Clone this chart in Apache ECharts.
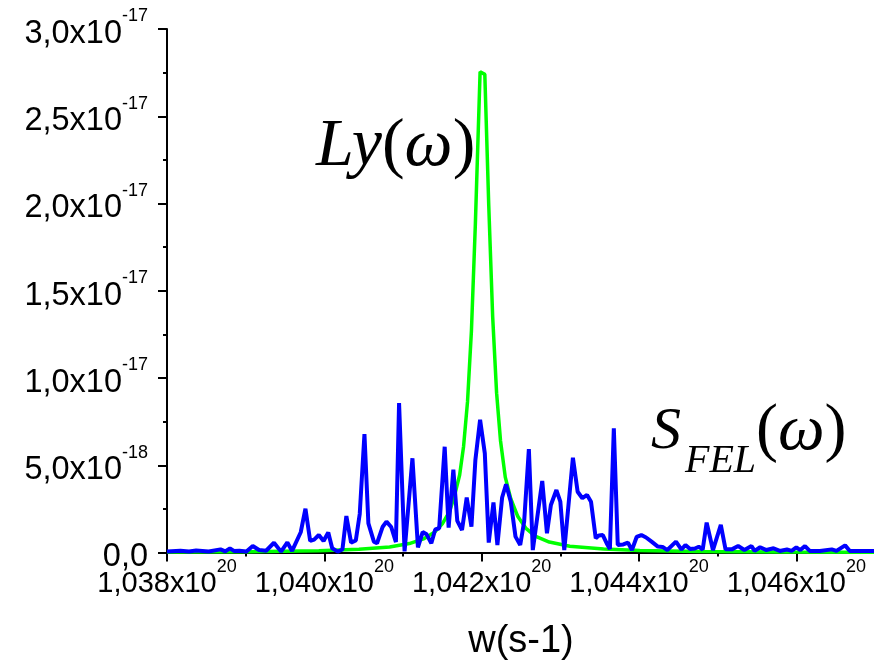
<!DOCTYPE html>
<html>
<head>
<meta charset="utf-8">
<script src="https://cdn.jsdelivr.net/npm/echarts@6/dist/echarts.min.js"></script>
<style>
  html, body { margin: 0; padding: 0; background: #fff; }
  #chart { width: 874px; height: 667px; }
</style>
</head>
<body>
<div id="chart"></div>
<script>
// Frequency axis values are in units of 10^20 s^-1, spectra in units of 10^-18.

// Tick labels
const xTickValues = [1.038, 1.040, 1.042, 1.044, 1.046];
const xTickMantissa = ['1,038', '1,040', '1,042', '1,044', '1,046'];
const xTickExponent = ['20', '20', '20', '20', '20'];
const yTickValues = [0, 5, 10, 15, 20, 25, 30];
const yTickMantissa = ['0,0', '5,0', '1,0', '1,5', '2,0', '2,5', '3,0'];
const yTickExponent = ['', '-18', '-17', '-17', '-17', '-17', '-17'];

// Lorentzian line Ly(w)
const freqLy = [1.03800, 1.03904, 1.03993, 1.04044, 1.04083, 1.04108, 1.04127, 1.04140,
  1.04150, 1.04159, 1.04165, 1.04172, 1.04177, 1.04182, 1.04187, 1.04192, 1.04198,
  1.04204, 1.04209, 1.04214, 1.04219, 1.04224, 1.04230, 1.04237, 1.04246, 1.04256,
  1.04268, 1.04286, 1.04312, 1.04355, 1.04401, 1.04477, 1.04579, 1.04700];
const specLy = [0.03, 0.05, 0.10, 0.18, 0.32, 0.51, 0.80, 1.16,
  1.64, 2.34, 3.16, 4.44, 6.08, 8.63, 12.72, 18.84, 27.55,
  27.40, 19.90, 13.50, 9.13, 6.39, 4.32, 3.08, 2.06, 1.40,
  0.94, 0.60, 0.36, 0.20, 0.11, 0.06, 0.03, 0.02];

// FEL spectrum S_FEL(w)
const freqFEL = [1.03800, 1.03817, 1.03828, 1.03837, 1.03853, 1.03868, 1.03874, 1.03880,
  1.03885, 1.03892, 1.03901, 1.03909, 1.03917, 1.03926, 1.03936, 1.03945, 1.03953,
  1.03959, 1.03970, 1.03976, 1.03982, 1.03987, 1.03993, 1.03999, 1.04005, 1.04010,
  1.04017, 1.04023, 1.04028, 1.04034, 1.04040, 1.04045, 1.04051, 1.04056, 1.04063,
  1.04067, 1.04074, 1.04079, 1.04085, 1.04091, 1.04095, 1.04102, 1.04112, 1.04119,
  1.04125, 1.04130, 1.04136, 1.04141, 1.04146, 1.04153, 1.04158, 1.04164, 1.04169,
  1.04175, 1.04181, 1.04187, 1.04192, 1.04198, 1.04204, 1.04209, 1.04215, 1.04220,
  1.04226, 1.04231, 1.04237, 1.04243, 1.04249, 1.04254, 1.04260, 1.04265, 1.04277,
  1.04283, 1.04288, 1.04295, 1.04300, 1.04305, 1.04316, 1.04322, 1.04328, 1.04334,
  1.04339, 1.04345, 1.04349, 1.04354, 1.04359, 1.04363, 1.04368, 1.04373, 1.04380,
  1.04386, 1.04391, 1.04397, 1.04403, 1.04409, 1.04416, 1.04424, 1.04430, 1.04436,
  1.04447, 1.04454, 1.04459, 1.04465, 1.04471, 1.04476, 1.04481, 1.04486, 1.04494,
  1.04504, 1.04510, 1.04518, 1.04526, 1.04534, 1.04543, 1.04547, 1.04554, 1.04562,
  1.04571, 1.04579, 1.04588, 1.04594, 1.04600, 1.04605, 1.04611, 1.04617, 1.04630,
  1.04645, 1.04651, 1.04662, 1.04668, 1.04700];
const specFEL = [0.06, 0.10, 0.06, 0.11, 0.06, 0.18, 0.06, 0.24,
  0.09, 0.10, 0.06, 0.37, 0.14, 0.10, 0.56, 0.05, 0.58,
  0.09, 1.16, 2.51, 0.66, 0.74, 1.00, 0.66, 1.15, 0.24,
  0.05, 0.17, 2.09, 0.57, 0.69, 2.21, 6.79, 1.67, 0.62,
  0.53, 1.46, 1.77, 1.46, 0.60, 8.57, 0.06, 5.40, 0.29,
  1.17, 1.04, 0.53, 1.32, 1.39, 6.06, 1.43, 4.75, 1.81,
  1.29, 3.15, 1.48, 5.30, 7.61, 5.68, 0.57, 2.87, 0.43,
  3.15, 3.91, 2.91, 0.91, 0.43, 1.77, 5.93, 0.14, 4.10,
  1.10, 2.72, 3.58, 2.91, 0.14, 5.43, 3.48, 3.11, 3.30,
  2.91, 0.81, 0.97, 1.00, 0.52, 0.20, 7.12, 0.43, 0.46,
  0.57, 0.14, 0.89, 1.00, 0.86, 0.62, 0.34, 0.32, 0.14,
  0.62, 0.17, 0.43, 0.20, 0.23, 0.33, 0.17, 1.71, 0.14,
  1.58, 0.18, 0.18, 0.37, 0.14, 0.37, 0.09, 0.30, 0.14,
  0.24, 0.09, 0.17, 0.09, 0.30, 0.14, 0.37, 0.09, 0.09,
  0.18, 0.09, 0.41, 0.09, 0.09];

const zip = (xs, ys) => xs.map((x, i) => [x, ys[i]]);

function tickIndex(values, v) {
  for (let i = 0; i < values.length; i++) {
    if (Math.abs(values[i] - v) < 1e-7) return i;
  }
  return -1;
}

const chart = echarts.init(document.getElementById('chart'), null, { renderer: 'canvas' });

const sans = 'Liberation Sans, Arial, sans-serif';
const serif = 'Liberation Serif, "Times New Roman", serif';

// Mantissa fills a tall line and sits at its bottom; the exponent hugs the top.
function tickRich(mainSize, lineHeight) {
  return {
    m: { fontFamily: sans, fontSize: mainSize, color: '#000', lineHeight: lineHeight, verticalAlign: 'bottom' },
    s: { fontFamily: sans, fontSize: 18, color: '#000', lineHeight: 18, verticalAlign: 'top' }
  };
}

chart.setOption({
  animation: false,
  backgroundColor: '#ffffff',
  grid: { left: 167, top: 29, width: 708, bottom: 114.5, containLabel: false, outerBoundsMode: 'none' },
  xAxis: {
    type: 'value',
    min: 1.038,
    max: 1.047,
    interval: 0.002,
    splitLine: { show: false },
    axisLine: { show: true, onZero: false, lineStyle: { color: '#000', width: 2 } },
    axisTick: { show: true, inside: false, length: 9, lineStyle: { color: '#000', width: 2 } },
    minorTick: { show: true, splitNumber: 2, length: 4, lineStyle: { color: '#000', width: 2 } },
    axisLabel: {
      margin: 6,
      showMaxLabel: false,
      hideOverlap: false,
      formatter: function (v) {
        const i = tickIndex(xTickValues, v);
        if (i < 0) return '';
        return '{m|' + xTickMantissa[i] + 'x10}{s|' + xTickExponent[i] + '}';
      },
      rich: tickRich(29, 40)
    },
    name: 'w(s-1)',
    nameLocation: 'middle',
    nameGap: 70,
    nameTextStyle: { fontFamily: sans, fontSize: 38, color: '#000' }
  },
  yAxis: {
    type: 'value',
    min: 0,
    max: 30,
    interval: 5,
    splitLine: { show: false },
    axisLine: { show: true, lineStyle: { color: '#000', width: 2 } },
    axisTick: { show: true, inside: false, length: 9, lineStyle: { color: '#000', width: 2 } },
    minorTick: { show: true, splitNumber: 2, length: 4, lineStyle: { color: '#000', width: 2 } },
    axisLabel: {
      margin: 19,
      hideOverlap: false,
      formatter: function (v) {
        const i = tickIndex(yTickValues, v);
        if (i < 0) return '';
        if (!yTickExponent[i]) return '{m|' + yTickMantissa[i] + '}';
        return '{m|' + yTickMantissa[i] + 'x10}{s|' + yTickExponent[i] + '}';
      },
      rich: tickRich(32.5, 43)
    }
  },
  series: [
    {
      name: 'Ly',
      type: 'line',
      data: zip(freqLy, specLy),
      showSymbol: false,
      smooth: false,
      lineStyle: { color: '#00ff00', width: 3.5 },
      z: 2
    },
    {
      name: 'SFEL',
      type: 'line',
      data: zip(freqFEL, specFEL),
      showSymbol: false,
      smooth: false,
      lineStyle: { color: '#0000ff', width: 4 },
      z: 3
    }
  ],
  graphic: [
    {
      type: 'text',
      left: 316,
      top: 113,
      style: {
        text: '{i|Ly}{n|(}{i|ω}{n|)}',
        rich: {
          i: { fontFamily: serif, fontStyle: 'italic', fontSize: 68, fill: '#000' },
          n: { fontFamily: serif, fontSize: 68, fill: '#000' }
        }
      }
    },
    {
      type: 'text',
      left: 651,
      top: 402,
      style: { text: 'S', font: 'italic 60px ' + serif, fill: '#000' }
    },
    {
      type: 'text',
      left: 685,
      top: 441,
      style: { text: 'FEL', font: 'italic 40px ' + serif, fill: '#000' }
    },
    {
      type: 'text',
      left: 756,
      top: 399,
      style: {
        text: '{n|(}{i|ω}{n|)}',
        rich: {
          i: { fontFamily: serif, fontStyle: 'italic', fontSize: 66, fill: '#000' },
          n: { fontFamily: serif, fontSize: 66, fill: '#000' }
        }
      }
    }
  ]
});
</script>
</body>
</html>
